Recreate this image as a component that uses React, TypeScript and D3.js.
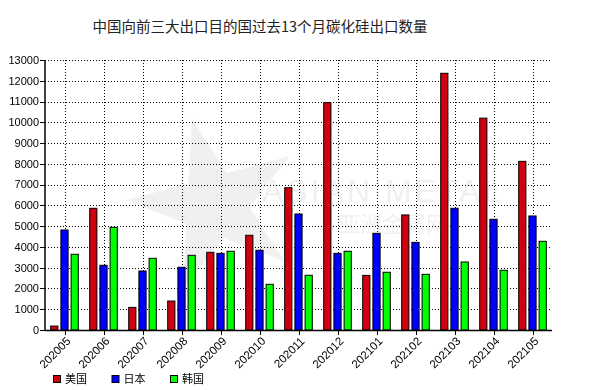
import React from "react";
import * as d3 from "d3";

const title = "中国向前三大出口目的国过去13个月碳化硅出口数量";
const months = ["202005","202006","202007","202008","202009","202010","202011","202012","202101","202102","202103","202104","202105"];
const seriesNames = ["美国", "日本", "韩国"];
const usa = [190, 5860, 1090, 1395, 3740, 4560, 6850, 10950, 2630, 5540, 12360, 10200, 8120];
const japan = [4815, 3115, 2840, 3020, 3690, 3835, 5585, 3690, 4655, 4220, 5860, 5330, 5490];
const korea = [3645, 4945, 3450, 3595, 3790, 2200, 2635, 3790, 2780, 2680, 3275, 2875, 4270];
const yTicks = [0,1000,2000,3000,4000,5000,6000,7000,8000,9000,10000,11000,12000,13000];
const colors = ["#d2000f", "#0000ff", "#00ff00"];

export default function App() {
  const W = 590, H = 390;
  const left = 45, right = 552, top = 60, bottom = 330;
  const x = d3.scaleBand<string>().domain(months).range([left, right]).padding(0);
  const y = d3.scaleLinear().domain([0, 13000]).range([bottom, top]);
  const series = [usa, japan, korea];
  const bw = 7.2, step = 10.2;
  const font = "Liberation Sans, Arial, sans-serif";
  const star = d3.symbol().type(d3.symbolStar).size(9000)();
  return (
    <svg width={W} height={H} style={{ position: "absolute", left: 0, top: 0, background: "#fff" }}>
      <rect x={0} y={0} width={W} height={H} fill="#fff" />
      {/* watermark */}
      <g opacity={0.09}>
        <path d={star ?? ""} transform="translate(215,205) rotate(-15)" fill="#555" />
        <text x={262} y={202} fontFamily={font} fontSize={32} fill="#555" letterSpacing={3}>ASIAN METAL</text>
        <text x={338} y={232} fontFamily="Noto Sans CJK SC" fontSize={22} fill="#555">亚洲金属网</text>
      </g>
      {/* horizontal grid */}
      {yTicks.filter(t => t > 0).map(t => (
        <line key={"h" + t} x1={left} x2={right} y1={Math.round(y(t)) + 0.5} y2={Math.round(y(t)) + 0.5}
          stroke="#000" strokeWidth={1} strokeDasharray="1,2" />
      ))}
      {/* vertical grid */}
      {months.map(m => {
        const cx = Math.round(x(m)! + x.bandwidth() / 2) + 0.5;
        return <line key={"v" + m} x1={cx} x2={cx} y1={top} y2={bottom} stroke="#000" strokeWidth={1} strokeDasharray="1,2" />;
      })}
      {/* bars */}
      {months.map((m, i) => {
        const c = x(m)! + x.bandwidth() / 2;
        return series.map((s, k) => {
          const bx = c + (k - 1) * step - bw / 2;
          return (
            <rect key={m + k} x={bx} y={y(s[i])} width={bw} height={bottom - y(s[i])}
              fill={colors[k]} stroke="#000" strokeWidth={1} />
          );
        });
      })}
      {/* axes */}
      <line x1={left} x2={left} y1={top} y2={bottom + 0.5} stroke="#000" strokeWidth={1.5} />
      <line x1={left} x2={right} y1={bottom + 0.5} y2={bottom + 0.5} stroke="#000" strokeWidth={1.5} />
      {yTicks.map(t => (
        <g key={"yt" + t}>
          <line x1={left - 5} x2={left} y1={Math.round(y(t)) + 0.5} y2={Math.round(y(t)) + 0.5} stroke="#000" />
          <text x={left - 6} y={y(t)} dy="0.35em" textAnchor="end" fontFamily={font} fontSize={11} fill="#000">{t}</text>
        </g>
      ))}
      {months.map(m => {
        const cx = Math.round(x(m)! + x.bandwidth() / 2) + 0.5;
        return (
          <g key={"xt" + m}>
            <line x1={cx} x2={cx} y1={bottom} y2={bottom + 5} stroke="#000" />
            <text transform={`translate(${cx + 3},${bottom + 9}) rotate(-45)`} textAnchor="end" dy="0.35em"
              fontFamily={font} fontSize={11.5} fill="#000">{m}</text>
          </g>
        );
      })}
      {/* title */}
      <text x={260} y={32} textAnchor="middle" fontFamily="Noto Sans CJK SC" fontSize={14.5} fill="#222">{title}</text>
      {/* legend */}
      {seriesNames.map((n, k) => (
        <g key={n} transform={`translate(${53 + k * 58.5},375)`}>
          <rect x={0.5} y={0.5} width={7} height={7} fill={colors[k]} stroke="#000" />
          <text x={12} y={4} dy="0.35em" fontFamily="Noto Sans CJK SC" fontSize={11} fill="#000">{n}</text>
        </g>
      ))}
    </svg>
  );
}
